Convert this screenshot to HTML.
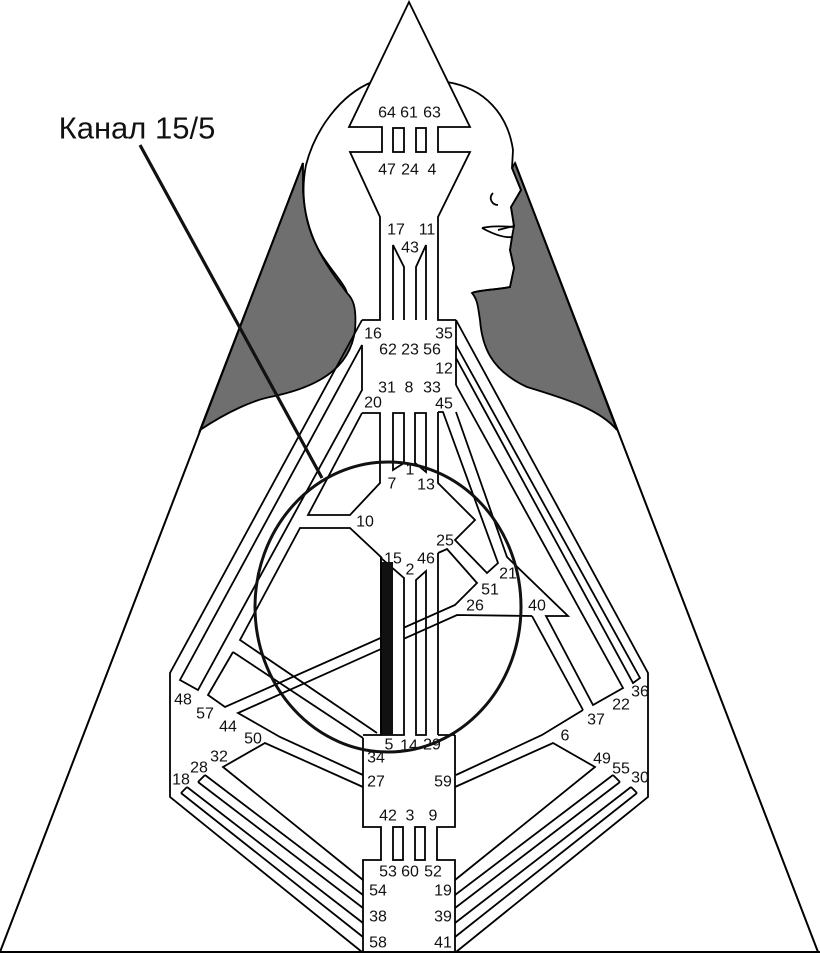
<!DOCTYPE html>
<html><head><meta charset="utf-8"><style>
html,body{margin:0;padding:0;background:#fff}
svg{display:block}
text{font-family:"Liberation Sans",Arial,sans-serif;font-size:16px;fill:#111;text-anchor:middle;dominant-baseline:central}
</style></head><body>
<svg width="820" height="954" viewBox="0 0 820 954" xmlns="http://www.w3.org/2000/svg">
<g fill="none" stroke="#000" stroke-width="1.8" stroke-linejoin="miter">
<path d="M303,163 L200,430 C230,410 255,400 270,397 C315,388 350,370 355,330 C357,305 352,298 347,293 C330,270 305,240 303,190 Z" fill="#6f6f6f"/>
<path d="M515,163 L617,430 C600,410 570,400 527,387 C490,370 482,345 480,320 C478,308 478,300 472,293 C478,290 495,290 510,287 L514,268 L510,250 L512,237 L514,226 L511,207 L521,190 L512,168 Z" fill="#6f6f6f"/>
<path d="M303,163 L0,952 M515,163 L818,952 M0,952 L820,952" stroke-width="2"/>
<path d="M372,82 C340,95 315,130 306,165 C300,195 305,230 323,257 C335,275 345,285 347,293"/>
<path d="M447,82 C485,88 508,115 513,150 L512,168 L521,190 L511,207 L514,226 L498,230 M482,228 C495,235 505,238 512,237 L510,250 L514,268 L510,287 C495,290 478,290 472,293"/>
<path d="M493,193 C488,198 492,205 498,205"/>
<path d="M482,228 C490,226 505,226 513,227"/>
<path d="M362,320 L380,320 L380,217 L350,152 L382,152 L382,127 L349,127 L409,2 L470,127 L438,127 L438,152 L470,152 L438,217 L438,320 L456,320" fill="#fff"/>
<rect x="393" y="128" width="11" height="24" fill="#fff"/>
<rect x="416" y="128" width="10" height="24" fill="#fff"/>
<path d="M393,320 L393,245 L404,267 L404,320 M426,320 L426,245 L416,267 L416,320"/>
<path d="M362,320 L170,673 L170,797 L362,952 M456,320 L648,673 L648,797 L456,952"/>
<path d="M362,345 L180,680 L198,690 L362,390 Z"/>
<path d="M362,413 L380,413 L380,483 L350,515 L308,515 L362,413"/>
<path d="M393,413 L404,413 L404,463 L393,470 Z M415,413 L426,413 L426,472 L415,463 Z"/>
<path d="M382,558 L350,528 L300,528 L240,640 L377,733"/>
<path d="M233,652 L363,738"/>
<path d="M233,652 L208,695 L225,707 L455,605 L477,583 L447,549 L438,553"/>
<path d="M532,616 L457,615 L238,713 L280,737 L363,775"/>
<path d="M363,787 L265,743 L223,767 L363,880"/>
<path d="M205,775 L363,895 M198,782 L363,908 M205,775 L198,782"/>
<path d="M187,787 L363,923 M181,793 L363,937 M187,787 L181,793"/>
<path d="M456,775 L542,735 L583,710"/>
<path d="M455,787 L553,743 L595,767 L455,880"/>
<path d="M613,775 L455,895 M620,782 L455,908 M613,775 L620,782"/>
<path d="M631,787 L455,923 M637,793 L455,937 M631,787 L637,793"/>
<path d="M456,345 L640,678 L633,683 L456,358 Z"/>
<path d="M456,385 L623,688 L593,705 L546,616 L568,616 L507,557 L456,412"/>
<path d="M532,616 L583,710"/>
<path d="M438,412 L443,412 L498,563 L487,573 L455,540 L475,520 L438,483 L438,412"/>
<path d="M456,320 L456,345 M456,358 L456,385"/>
<path d="M363,738 L363,827 L381,827 L381,860 L363,860 L363,952 M455,735 L455,827 L437,827 L437,860 L455,860 L455,952"/>
<rect x="393" y="827" width="10" height="33"/>
<rect x="415" y="827" width="10" height="33"/>
<path d="M363,735 L381,735 M438,735 L455,735"/>
<path d="M381,558 L404,578 L404,735 L381,735 Z" fill="#fff"/>
<rect x="381" y="562" width="12" height="173" fill="#111" stroke="none"/>
<path d="M381,558 L381,735"/>
<path d="M416,735 L416,580 L426,571 L426,735 Z"/>
<path d="M438,553 L438,735"/>
</g>
<ellipse cx="388" cy="607" rx="133" ry="145" fill="none" stroke="#111" stroke-width="3"/>
<line x1="140" y1="145" x2="322" y2="478" stroke="#111" stroke-width="3.2"/>
<text x="137" y="128" style="font-size:31px">Канал 15/5</text>
<g>
<text x="387" y="113">64</text><text x="409" y="113">61</text><text x="432" y="113">63</text>
<text x="387" y="170">47</text><text x="410" y="170">24</text><text x="432" y="170">4</text>
<text x="396" y="230">17</text><text x="427" y="230">11</text><text x="410" y="248">43</text>
<text x="373" y="334">16</text><text x="444" y="334">35</text>
<text x="388" y="350">62</text><text x="410" y="350">23</text><text x="432" y="350">56</text>
<text x="444" y="369">12</text>
<text x="387" y="388">31</text><text x="409" y="388">8</text><text x="432" y="388">33</text>
<text x="373" y="403">20</text><text x="444" y="404">45</text>
<text x="410" y="470">1</text><text x="392" y="484">7</text><text x="426" y="485">13</text>
<text x="365" y="522">10</text><text x="445" y="541">25</text>
<text x="393" y="559">15</text><text x="410" y="570">2</text><text x="426" y="559">46</text>
<text x="508" y="574">21</text><text x="490" y="590">51</text><text x="475" y="606">26</text><text x="537" y="606">40</text>
<text x="183" y="700">48</text><text x="205" y="714">57</text><text x="228" y="727">44</text><text x="253" y="739">50</text>
<text x="596" y="720">37</text><text x="621" y="705">22</text><text x="640" y="692">36</text><text x="565" y="736">6</text>
<text x="389" y="745">5</text><text x="409" y="746">14</text><text x="432" y="745">29</text>
<text x="376" y="758">34</text><text x="376" y="782">27</text><text x="443" y="782">59</text>
<text x="219" y="757">32</text><text x="199" y="768">28</text><text x="181" y="780">18</text>
<text x="602" y="759">49</text><text x="621" y="769">55</text><text x="640" y="778">30</text>
<text x="388" y="816">42</text><text x="410" y="816">3</text><text x="433" y="816">9</text>
<text x="388" y="872">53</text><text x="410" y="872">60</text><text x="433" y="872">52</text>
<text x="378" y="891">54</text><text x="443" y="891">19</text>
<text x="378" y="917">38</text><text x="443" y="917">39</text>
<text x="378" y="943">58</text><text x="443" y="943">41</text>
</g>
</svg>
</body></html>
